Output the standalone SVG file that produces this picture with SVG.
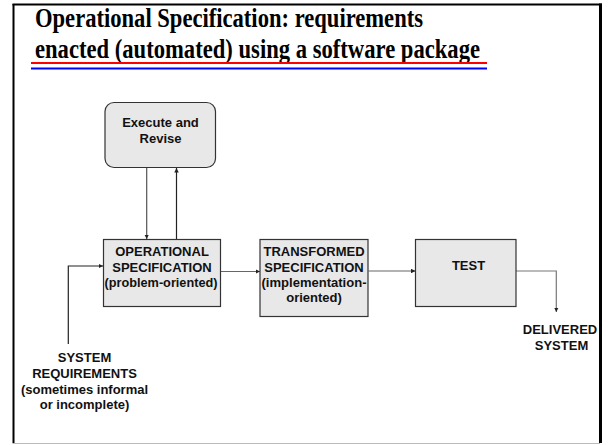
<svg xmlns="http://www.w3.org/2000/svg" width="609" height="445" viewBox="0 0 609 445">
<style>
.title{font-family:"Liberation Serif","Times New Roman",serif;font-weight:bold;font-size:28px;fill:#000}
.lbl{font-family:"Liberation Sans",Arial,sans-serif;font-weight:bold;font-size:13px;fill:#111;text-anchor:middle}
.box{fill:#e8e8e8;stroke:#333;stroke-width:1.2}
.conn{fill:none;stroke:#555;stroke-width:1.2}
</style>
<defs>
<marker id="ah" viewBox="0 0 6 6" refX="6" refY="3" markerWidth="4.5" markerHeight="4.5" orient="auto" markerUnits="userSpaceOnUse">
<path d="M0,0 L6,3 L0,6 z" fill="#222"/>
</marker>
</defs>
<rect x="0" y="0" width="609" height="445" fill="#fff"/>
<g id="frame">
<line x1="13.5" y1="4" x2="13.5" y2="443" stroke="#000" stroke-width="2"/>
<line x1="12.5" y1="4.5" x2="602" y2="4.5" stroke="#000" stroke-width="2"/>
<line x1="600.5" y1="3.5" x2="600.5" y2="443" stroke="#000" stroke-width="3"/>
<line x1="12.5" y1="443.5" x2="600" y2="443.5" stroke="#bbb" stroke-width="1"/>
</g>
<g id="title">
<text class="title" x="35" y="27" textLength="388" lengthAdjust="spacingAndGlyphs">Operational Specification: requirements</text>
<text class="title" x="35" y="58" textLength="445" lengthAdjust="spacingAndGlyphs">enacted (automated) using a software package</text>
<line x1="31" y1="63" x2="487" y2="63" stroke="#f00" stroke-width="2"/>
<line x1="31" y1="68.5" x2="487" y2="68.5" stroke="#00f" stroke-width="2"/>
</g>
<g id="connectors">
<line class="conn" x1="146.7" y1="168" x2="146.7" y2="239" marker-end="url(#ah)"/>
<line class="conn" x1="176.5" y1="239" x2="176.5" y2="168" marker-end="url(#ah)" style="stroke:#222"/>
<line class="conn" x1="221" y1="271.5" x2="260" y2="271.5" marker-end="url(#ah)" style="stroke:#666"/>
<line class="conn" x1="368.5" y1="271" x2="415.5" y2="271" marker-end="url(#ah)" style="stroke:#666"/>
<polyline class="conn" points="516,271 556.3,271 556.3,312" marker-end="url(#ah)" style="stroke:#777"/>
<polyline class="conn" points="68.3,344 68.3,266 103,266" marker-end="url(#ah)" style="stroke:#222"/>
</g>
<g id="execute">
<rect class="box" x="105" y="102.5" width="110.5" height="65" rx="9"/>
<text class="lbl" x="160.5" y="127">Execute and</text>
<text class="lbl" x="160.5" y="142.5">Revise</text>
</g>
<g id="operational">
<rect class="box" x="103.5" y="239.5" width="117" height="67"/>
<text class="lbl" x="162" y="256">OPERATIONAL</text>
<text class="lbl" x="162" y="271.5">SPECIFICATION</text>
<text class="lbl" x="161" y="287" textLength="113" lengthAdjust="spacingAndGlyphs">(problem-oriented)</text>
</g>
<g id="transformed">
<rect class="box" x="260" y="239.5" width="108" height="77"/>
<text class="lbl" x="314" y="256">TRANSFORMED</text>
<text class="lbl" x="314" y="271.5">SPECIFICATION</text>
<text class="lbl" x="314" y="287" textLength="105" lengthAdjust="spacingAndGlyphs">(implementation-</text>
<text class="lbl" x="314" y="302">oriented)</text>
</g>
<g id="test">
<rect class="box" x="415.5" y="239.5" width="100.5" height="67"/>
<text class="lbl" x="468.5" y="269.5">TEST</text>
</g>
<g id="delivered">
<text class="lbl" x="560" y="334">DELIVERED</text>
<text class="lbl" x="561.5" y="350">SYSTEM</text>
</g>
<g id="requirements">
<text class="lbl" x="84.5" y="361.5">SYSTEM</text>
<text class="lbl" x="84.5" y="377.5">REQUIREMENTS</text>
<text class="lbl" x="84.5" y="393.5">(sometimes informal</text>
<text class="lbl" x="84.5" y="409">or incomplete)</text>
</g>
</svg>
